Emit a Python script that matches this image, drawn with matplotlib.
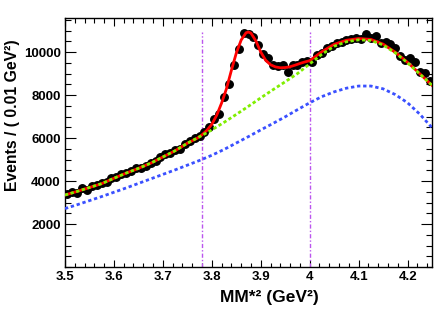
import numpy as np
import matplotlib
matplotlib.use("Agg")
import matplotlib.pyplot as plt
from matplotlib.ticker import MultipleLocator

plt.rcParams["font.family"] = ["Liberation Sans", "DejaVu Sans"]
plt.rcParams["font.weight"] = "bold"

# data points (bin centres, events per 0.01 GeV^2)
data_x = np.round(np.arange(3.505, 4.25, 0.01), 3)
data_y = [
    3400, 3500, 3460, 3680, 3580, 3770, 3840, 3890, 3970, 4150,
    4200, 4350, 4390, 4460, 4590, 4620, 4710, 4860, 4930, 5130,
    5240, 5290, 5440, 5490, 5740, 5860, 5980, 6080, 6280, 6500,
    6900, 7100, 7900, 8520, 9380, 10120, 10880, 10820, 10700, 10350,
    9890, 9730, 9380, 9350, 9380, 9070, 9410, 9410, 9530, 9570,
    9520, 9870, 9940, 10170, 10260, 10400, 10470, 10540, 10600, 10640,
    10600, 10820, 10640, 10770, 10400, 10480, 10370, 10170, 9820, 9620,
    9730, 9560, 9090, 9020, 8660,
]

# background curve (green)
curve_x = np.round(np.arange(3.5, 4.2501, 0.025), 3)
bkg_y = [
    3350, 3520, 3700, 3880, 4130, 4370, 4590, 4830, 5120, 5410,
    5760, 6060, 6380, 6730, 7100, 7480, 7870, 8250, 8620, 9000,
    9450, 9900, 10270, 10480, 10570, 10540, 10330, 9960, 9500, 8980,
    8450,
]

# second component (blue)
comp_y = [
    2720, 2900, 3090, 3280, 3480, 3680, 3890, 4100, 4310, 4520,
    4740, 4960, 5200, 5470, 5770, 6070, 6380, 6680, 6990, 7320,
    7640, 7930, 8150, 8320, 8420, 8420, 8290, 8020, 7640, 7110,
    6480,
]

# total fit (red)
fit_x = [
    3.500, 3.525, 3.550, 3.575, 3.600, 3.625, 3.650, 3.675, 3.700, 3.725,
    3.750, 3.770, 3.780, 3.790, 3.800, 3.810, 3.820, 3.830, 3.840, 3.850,
    3.860, 3.870, 3.875, 3.880, 3.890, 3.900, 3.910, 3.920, 3.930, 3.940,
    3.950, 3.960, 3.970, 3.980, 3.990, 4.000, 4.025, 4.050, 4.075, 4.100,
    4.125, 4.150, 4.175, 4.200, 4.225, 4.250,
]
fit_y = [
    3350, 3520, 3700, 3880, 4130, 4370, 4590, 4830, 5120, 5410,
    5760, 5990, 6150, 6360, 6640, 7060, 7630, 8300, 9150, 9950,
    10560, 10900, 10930, 10880, 10520, 10000, 9620, 9410, 9310, 9270,
    9280, 9320, 9390, 9470, 9540, 9600, 10020, 10360, 10550, 10630,
    10590, 10370, 9990, 9520, 8990, 8450,
]

# signal window
window = [3.78, 4.0]
window_top = 10950

fig = plt.figure(figsize=(4.36, 3.12), dpi=100)
ax = fig.add_axes([0.149, 0.144, 0.842, 0.798])

ax.vlines(window, 0, window_top, colors="#bb55ee", linestyles=[(0, (3, 1.5, 1, 1.5))], linewidth=1)
ax.plot(data_x, data_y, "o", color="black", markersize=5.4, zorder=3)
ax.plot(fit_x, fit_y, color="#ff0000", linewidth=2, zorder=4)
ax.plot(curve_x, bkg_y, color="#80ee00", linewidth=2, linestyle=(0, (1.2, 0.9)), zorder=5)
ax.plot(curve_x, comp_y, color="#3a50ff", linewidth=2, linestyle=(0, (1.2, 1.0)), zorder=5)

ax.set_xlim(3.5, 4.25)
ax.set_ylim(0, 11580)
ax.xaxis.set_major_locator(MultipleLocator(0.1))
ax.xaxis.set_minor_locator(MultipleLocator(0.02))
ax.set_yticks([2000, 4000, 6000, 8000, 10000])
ax.yaxis.set_minor_locator(MultipleLocator(500))
ax.set_xticklabels([f"{v:g}" for v in ax.get_xticks()])

ax.tick_params(axis="x", which="major", direction="in", length=7.5 * 0.72, width=0.8,
               top=True, labelsize=9.5, pad=3)
ax.tick_params(axis="x", which="minor", direction="in", length=4.5 * 0.72, width=0.8, top=True)
ax.tick_params(axis="y", which="major", direction="in", length=11 * 0.72, width=0.8,
               right=True, labelsize=9.5, pad=3)
ax.tick_params(axis="y", which="minor", direction="in", length=6 * 0.72, width=0.8, right=True)
for lab in ax.get_xticklabels() + ax.get_yticklabels():
    lab.set_fontweight("bold")
for sp in ax.spines.values():
    sp.set_linewidth(1)

fig.text(0.617, 0.048, "MM*² (GeV²)", ha="center", va="center", fontsize=12.5, fontweight="bold")
fig.text(0.028, 0.632, "Events / ( 0.01 GeV²)", ha="center", va="center", rotation=90,
         fontsize=11.3, fontweight="bold")

fig.savefig("out.png", dpi=100)
